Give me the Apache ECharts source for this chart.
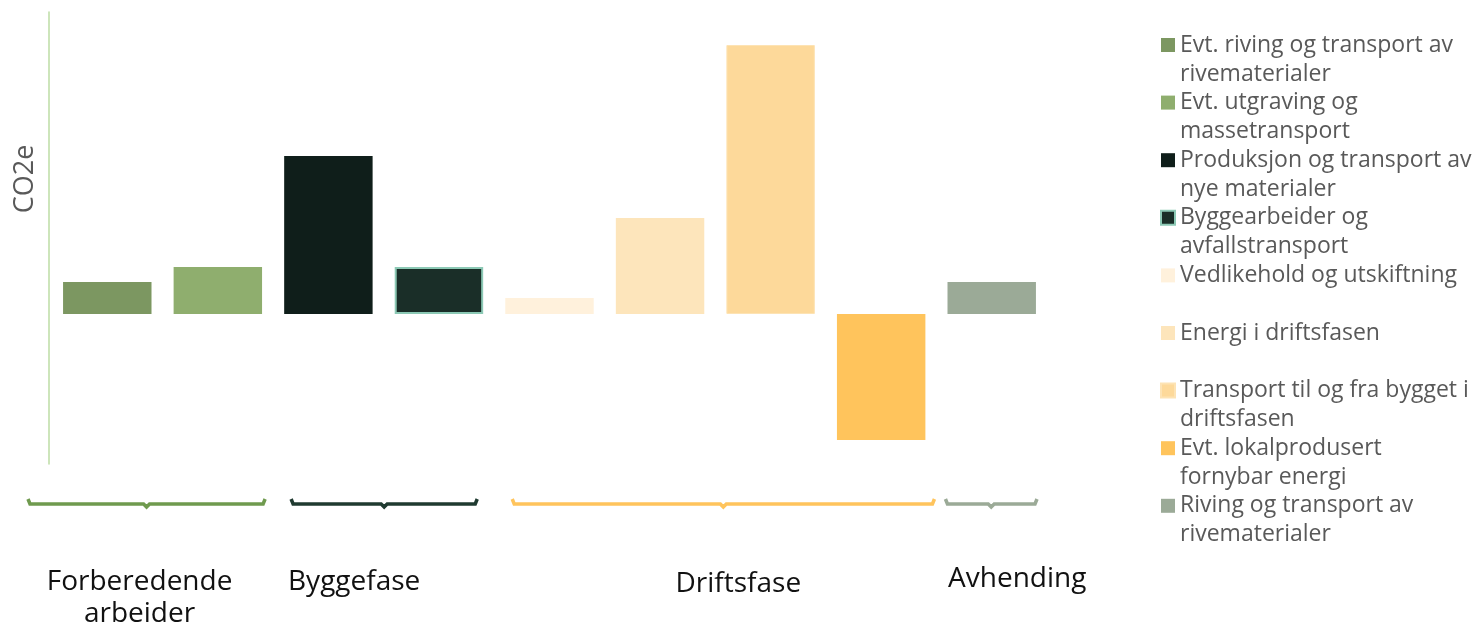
<!DOCTYPE html>
<html>
<head>
<meta charset="utf-8">
<script src="https://cdn.jsdelivr.net/npm/echarts@6/dist/echarts.min.js"></script>
<style>
  html, body { margin: 0; padding: 0; background: #fff; }
  #chart { width: 1480px; height: 627px; }
</style>
</head>
<body>
<div id="chart"></div>
<script>
// kategorier (en per søyle)
const seriesNames = [
  'Evt. riving og transport av rivematerialer',
  'Evt. utgraving og massetransport',
  'Produksjon og transport av nye materialer',
  'Byggearbeider og avfallstransport',
  'Vedlikehold og utskiftning',
  'Energi i driftsfasen',
  'Transport til og fra bygget i driftsfasen',
  'Evt. lokalprodusert fornybar energi',
  'Riving og transport av rivematerialer'
]
// tekst i tegnforklaringen, brutt som i originalen
const legendLabels = [
  'Evt. riving og transport av\nrivematerialer',
  'Evt. utgraving og\nmassetransport',
  'Produksjon og transport av\nnye materialer',
  'Byggearbeider og\navfallstransport',
  'Vedlikehold og utskiftning\n ',
  'Energi i driftsfasen\n ',
  'Transport til og fra bygget i\ndriftsfasen',
  'Evt. lokalprodusert\nfornybar energi',
  'Riving og transport av\nrivematerialer'
]
// relative verdier (ingen skala i originalen)
const values = [32, 47, 158, 47, 16, 96, 269, -126, 32]

const barColors = ['#7c9761', '#8fae6e', '#0f1e1a', '#1a2e28', '#fff1dc', '#fde5bb', '#fdd99a', '#ffc45c', '#9baa97']

// faser
const phaseNames = ['Forberedende\narbeider', 'Byggefase', 'Driftsfase', 'Avhending']
const phaseFrom = [0, 2, 4, 8]
const phaseTo = [1, 3, 7, 8]
const phaseColors = ['#6f9a4e', '#1f3a30', '#ffc45c', '#9baa97']
// justering av klammer og tekst (px)
const bracketPadL = [-24, 18, 18, 9]
const bracketPadR = [-8, -17, -2, -10]
const labelShift = [-7, -30, 15, 26]
const labelDy = [0, 0, 2, -3]

const series = seriesNames.map((name, i) => {
  const s = {
    type: 'bar',
    name: name,
    stack: 'all',
    barCategoryGap: '20%',
    data: seriesNames.map((c, j) => (j === i ? values[i] : '-')),
    itemStyle: { color: barColors[i] }
  }
  if (i === 3) {
    s.itemStyle.borderColor = '#8cc9b5'
    s.itemStyle.borderWidth = 2
  }
  if (i === 6) {
    s.itemStyle.borderColor = '#fde3b4'
    s.itemStyle.borderWidth = 1
  }
  return s
})

const option = {
  animation: false,
  grid: { left: 52, right: 433, top: 12, bottom: 163 },
  legend: {
    orient: 'vertical',
    left: 1160,
    top: 1.5,
    padding: 0,
    itemGap: -29.4,
    itemWidth: 14,
    itemHeight: 14,
    icon: 'rect',
    data: seriesNames,
    // tom første linje slik at ikonet står ved første tekstlinje
    formatter: name => ' \n' + legendLabels[seriesNames.indexOf(name)],
    textStyle: {
      fontFamily: 'Open Sans',
      fontSize: 23,
      lineHeight: 29,
      color: '#595959'
    }
  },
  xAxis: {
    type: 'category',
    data: seriesNames,
    axisLine: { show: false },
    axisTick: { show: false },
    axisLabel: { show: false },
    splitLine: { show: false }
  },
  yAxis: {
    type: 'value',
    min: -150,
    max: 302,
    offset: 3,
    name: 'CO2e',
    nameLocation: 'middle',
    nameGap: 10,
    nameTextStyle: {
      fontFamily: 'Open Sans',
      fontSize: 27,
      color: '#595959',
      padding: [0, 0, 0, 118]
    },
    axisLine: { show: true, lineStyle: { color: '#bcdca5', width: 1.5 } },
    axisTick: { show: false },
    axisLabel: { show: false },
    splitLine: { show: false }
  },
  series
}

const chart = echarts.init(document.getElementById('chart'))
chart.setOption(option)

// klammer og fasenavn under søylene
const c0 = chart.convertToPixel({ xAxisIndex: 0 }, 0)
const bw = chart.convertToPixel({ xAxisIndex: 0 }, 1) - c0
const graphics = []
phaseNames.forEach((p, k) => {
  const x0 = chart.convertToPixel({ xAxisIndex: 0 }, phaseFrom[k]) - bw / 2 + bracketPadL[k]
  const x1 = chart.convertToPixel({ xAxisIndex: 0 }, phaseTo[k]) + bw / 2 + bracketPadR[k]
  const mid = (x0 + x1) / 2
  const y = 504
  graphics.push({
    type: 'polyline',
    shape: {
      points: [[x0, y - 5], [x0 + 2, y], [mid - 3, y], [mid, y + 3], [mid + 3, y], [x1 - 2, y], [x1, y - 5]]
    },
    style: { stroke: phaseColors[k], lineWidth: 3.5, fill: null }
  })
  graphics.push({
    type: 'text',
    x: mid + labelShift[k],
    y: 566 + labelDy[k],
    style: {
      text: p,
      fontFamily: 'Open Sans',
      fontSize: 28,
      lineHeight: 32,
      fill: '#111',
      align: 'center',
      verticalAlign: 'top'
    }
  })
})
chart.setOption({ graphic: graphics })
</script>
</body>
</html>
